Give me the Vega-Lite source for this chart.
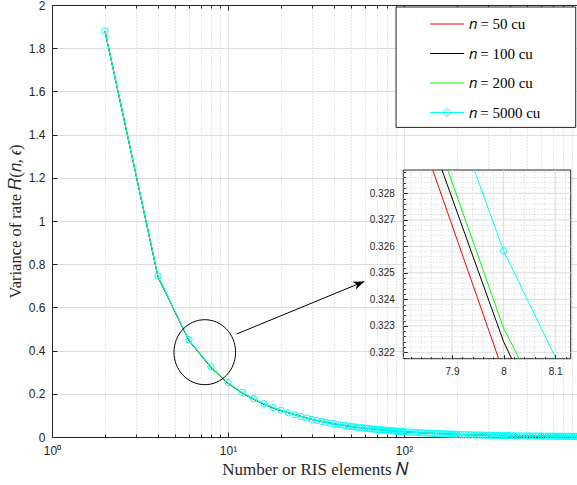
{
  "$schema": "https://vega.github.io/schema/vega-lite/v6.json",
  "width": 525,
  "height": 432,
  "autosize": {"type": "none"},
  "padding": {"left": 52, "top": 5, "right": 0, "bottom": 48},
  "background": "white",
  "config": {
    "view": {"stroke": null},
    "axis": {"labelFont": "Liberation Sans", "labelFontSize": 12, "labelColor": "#262626", "titleFont": "Liberation Serif", "titleFontSize": 17, "titleFontWeight": "normal", "titleColor": "#262626", "domainColor": "#262626", "tickColor": "#262626", "domainWidth": 1, "tickWidth": 1, "gridWidth": 1}
  },
  "datasets": {
    "cyan": [
      {"N": 2, "R": 1.88}, {"N": 4, "R": 0.745}, {"N": 6, "R": 0.45}, {"N": 8, "R": 0.326}, {"N": 10, "R": 0.252},
      {"N": 12, "R": 0.207}, {"N": 14, "R": 0.177}, {"N": 16, "R": 0.154}, {"N": 18, "R": 0.137}, {"N": 20, "R": 0.124},
      {"N": 22, "R": 0.1125}, {"N": 24, "R": 0.103}, {"N": 26, "R": 0.095}, {"N": 28, "R": 0.088}, {"N": 30, "R": 0.082},
      {"N": 32, "R": 0.0768}, {"N": 34, "R": 0.0722}, {"N": 36, "R": 0.0682}, {"N": 38, "R": 0.0646}, {"N": 40, "R": 0.0613},
      {"N": 42, "R": 0.0584}, {"N": 44, "R": 0.0557}, {"N": 46, "R": 0.0533}, {"N": 48, "R": 0.0511}, {"N": 50, "R": 0.049},
      {"N": 52, "R": 0.0471}, {"N": 54, "R": 0.0454}, {"N": 56, "R": 0.0438}, {"N": 58, "R": 0.0423}, {"N": 60, "R": 0.0409},
      {"N": 62, "R": 0.0396}, {"N": 64, "R": 0.0383}, {"N": 66, "R": 0.0372}, {"N": 68, "R": 0.0361}, {"N": 70, "R": 0.035},
      {"N": 72, "R": 0.034}, {"N": 74, "R": 0.0331}, {"N": 76, "R": 0.0323}, {"N": 78, "R": 0.0314}, {"N": 80, "R": 0.0306},
      {"N": 82, "R": 0.0299}, {"N": 84, "R": 0.0292}, {"N": 86, "R": 0.0285}, {"N": 88, "R": 0.0279}, {"N": 90, "R": 0.0272},
      {"N": 92, "R": 0.0266}, {"N": 94, "R": 0.0261}, {"N": 96, "R": 0.0255}, {"N": 98, "R": 0.025}, {"N": 100, "R": 0.0245},
      {"N": 105, "R": 0.0233}, {"N": 110, "R": 0.0223}, {"N": 115, "R": 0.0213}, {"N": 120, "R": 0.0204}, {"N": 125, "R": 0.0196},
      {"N": 130, "R": 0.0189}, {"N": 135, "R": 0.0182}, {"N": 140, "R": 0.0175}, {"N": 145, "R": 0.0169}, {"N": 150, "R": 0.0163},
      {"N": 155, "R": 0.0158}, {"N": 160, "R": 0.0153}, {"N": 165, "R": 0.0148}, {"N": 170, "R": 0.0144}, {"N": 175, "R": 0.014},
      {"N": 180, "R": 0.0136}, {"N": 185, "R": 0.0132}, {"N": 190, "R": 0.0129}, {"N": 195, "R": 0.0126}, {"N": 200, "R": 0.0123},
      {"N": 210, "R": 0.0117}, {"N": 220, "R": 0.0111}, {"N": 230, "R": 0.0107}, {"N": 240, "R": 0.0102}, {"N": 250, "R": 0.0098},
      {"N": 260, "R": 0.0094}, {"N": 270, "R": 0.0091}, {"N": 280, "R": 0.0088}, {"N": 290, "R": 0.0084}, {"N": 300, "R": 0.0082},
      {"N": 310, "R": 0.0079}, {"N": 320, "R": 0.0077}, {"N": 330, "R": 0.0074}, {"N": 340, "R": 0.0072}, {"N": 350, "R": 0.007},
      {"N": 360, "R": 0.0068}, {"N": 370, "R": 0.0066}, {"N": 380, "R": 0.0064}, {"N": 390, "R": 0.0063}, {"N": 400, "R": 0.0061},
      {"N": 420, "R": 0.0058}, {"N": 440, "R": 0.0056}, {"N": 460, "R": 0.0053}, {"N": 480, "R": 0.0051}, {"N": 500, "R": 0.0049},
      {"N": 520, "R": 0.0047}, {"N": 540, "R": 0.0045}, {"N": 560, "R": 0.0044}, {"N": 580, "R": 0.0042}, {"N": 600, "R": 0.0041},
      {"N": 620, "R": 0.004}, {"N": 640, "R": 0.0038}, {"N": 660, "R": 0.0037}, {"N": 680, "R": 0.0036}, {"N": 700, "R": 0.0035},
      {"N": 720, "R": 0.0034}, {"N": 740, "R": 0.0033}, {"N": 760, "R": 0.0032}, {"N": 780, "R": 0.0031}, {"N": 800, "R": 0.0031},
      {"N": 820, "R": 0.003}, {"N": 840, "R": 0.0029}, {"N": 860, "R": 0.0028}, {"N": 880, "R": 0.0028}, {"N": 900, "R": 0.0027},
      {"N": 920, "R": 0.0027}, {"N": 940, "R": 0.0026}, {"N": 960, "R": 0.0026}, {"N": 980, "R": 0.0025}, {"N": 1000, "R": 0.0025}
    ],
    "others": [
      {"s": "𝑛 = 50 cu", "N": 2, "R": 1.878}, {"s": "𝑛 = 50 cu", "N": 4, "R": 0.741}, {"s": "𝑛 = 50 cu", "N": 6, "R": 0.446}, {"s": "𝑛 = 50 cu", "N": 8, "R": 0.3212}, {"s": "𝑛 = 50 cu", "N": 10, "R": 0.248},
      {"s": "𝑛 = 50 cu", "N": 12, "R": 0.204}, {"s": "𝑛 = 50 cu", "N": 14, "R": 0.174}, {"s": "𝑛 = 50 cu", "N": 16, "R": 0.152}, {"s": "𝑛 = 50 cu", "N": 18, "R": 0.135}, {"s": "𝑛 = 50 cu", "N": 20, "R": 0.122},
      {"s": "𝑛 = 50 cu", "N": 30, "R": 0.081}, {"s": "𝑛 = 50 cu", "N": 40, "R": 0.0605}, {"s": "𝑛 = 50 cu", "N": 50, "R": 0.0484}, {"s": "𝑛 = 50 cu", "N": 60, "R": 0.0404}, {"s": "𝑛 = 50 cu", "N": 80, "R": 0.0302},
      {"s": "𝑛 = 50 cu", "N": 100, "R": 0.0242}, {"s": "𝑛 = 50 cu", "N": 150, "R": 0.0161}, {"s": "𝑛 = 50 cu", "N": 200, "R": 0.0121}, {"s": "𝑛 = 50 cu", "N": 300, "R": 0.0081}, {"s": "𝑛 = 50 cu", "N": 400, "R": 0.006},
      {"s": "𝑛 = 50 cu", "N": 600, "R": 0.004}, {"s": "𝑛 = 50 cu", "N": 800, "R": 0.003}, {"s": "𝑛 = 50 cu", "N": 1000, "R": 0.0024},
      {"s": "𝑛 = 100 cu", "N": 2, "R": 1.879}, {"s": "𝑛 = 100 cu", "N": 4, "R": 0.742}, {"s": "𝑛 = 100 cu", "N": 6, "R": 0.447}, {"s": "𝑛 = 100 cu", "N": 8, "R": 0.3224}, {"s": "𝑛 = 100 cu", "N": 10, "R": 0.249},
      {"s": "𝑛 = 100 cu", "N": 12, "R": 0.205}, {"s": "𝑛 = 100 cu", "N": 14, "R": 0.175}, {"s": "𝑛 = 100 cu", "N": 16, "R": 0.152}, {"s": "𝑛 = 100 cu", "N": 18, "R": 0.135}, {"s": "𝑛 = 100 cu", "N": 20, "R": 0.122},
      {"s": "𝑛 = 100 cu", "N": 30, "R": 0.081}, {"s": "𝑛 = 100 cu", "N": 40, "R": 0.0607}, {"s": "𝑛 = 100 cu", "N": 50, "R": 0.0485}, {"s": "𝑛 = 100 cu", "N": 60, "R": 0.0405}, {"s": "𝑛 = 100 cu", "N": 80, "R": 0.0303},
      {"s": "𝑛 = 100 cu", "N": 100, "R": 0.0243}, {"s": "𝑛 = 100 cu", "N": 150, "R": 0.0162}, {"s": "𝑛 = 100 cu", "N": 200, "R": 0.0122}, {"s": "𝑛 = 100 cu", "N": 300, "R": 0.0081}, {"s": "𝑛 = 100 cu", "N": 400, "R": 0.006},
      {"s": "𝑛 = 100 cu", "N": 600, "R": 0.004}, {"s": "𝑛 = 100 cu", "N": 800, "R": 0.003}, {"s": "𝑛 = 100 cu", "N": 1000, "R": 0.0024},
      {"s": "𝑛 = 200 cu", "N": 2, "R": 1.879}, {"s": "𝑛 = 200 cu", "N": 4, "R": 0.743}, {"s": "𝑛 = 200 cu", "N": 6, "R": 0.447}, {"s": "𝑛 = 200 cu", "N": 8, "R": 0.3229}, {"s": "𝑛 = 200 cu", "N": 10, "R": 0.249},
      {"s": "𝑛 = 200 cu", "N": 12, "R": 0.205}, {"s": "𝑛 = 200 cu", "N": 14, "R": 0.175}, {"s": "𝑛 = 200 cu", "N": 16, "R": 0.153}, {"s": "𝑛 = 200 cu", "N": 18, "R": 0.136}, {"s": "𝑛 = 200 cu", "N": 20, "R": 0.123},
      {"s": "𝑛 = 200 cu", "N": 30, "R": 0.081}, {"s": "𝑛 = 200 cu", "N": 40, "R": 0.0608}, {"s": "𝑛 = 200 cu", "N": 50, "R": 0.0486}, {"s": "𝑛 = 200 cu", "N": 60, "R": 0.0405}, {"s": "𝑛 = 200 cu", "N": 80, "R": 0.0303},
      {"s": "𝑛 = 200 cu", "N": 100, "R": 0.0243}, {"s": "𝑛 = 200 cu", "N": 150, "R": 0.0162}, {"s": "𝑛 = 200 cu", "N": 200, "R": 0.0122}, {"s": "𝑛 = 200 cu", "N": 300, "R": 0.0081}, {"s": "𝑛 = 200 cu", "N": 400, "R": 0.006},
      {"s": "𝑛 = 200 cu", "N": 600, "R": 0.004}, {"s": "𝑛 = 200 cu", "N": 800, "R": 0.003}, {"s": "𝑛 = 200 cu", "N": 1000, "R": 0.0024}
    ],
    "insetLines": [
      {"s": "𝑛 = 50 cu", "x": 7.8626, "y": 0.32888}, {"s": "𝑛 = 50 cu", "x": 7.9905, "y": 0.32176},
      {"s": "𝑛 = 100 cu", "x": 7.8806, "y": 0.32888}, {"s": "𝑛 = 100 cu", "x": 8.0, "y": 0.3224}, {"s": "𝑛 = 100 cu", "x": 8.0157, "y": 0.32176},
      {"s": "𝑛 = 200 cu", "x": 7.8917, "y": 0.32888}, {"s": "𝑛 = 200 cu", "x": 8.0, "y": 0.32291}, {"s": "𝑛 = 200 cu", "x": 8.0304, "y": 0.32176},
      {"s": "𝑛 = 5000 cu", "x": 7.9432, "y": 0.32888}, {"s": "𝑛 = 5000 cu", "x": 8.0, "y": 0.32583}, {"s": "𝑛 = 5000 cu", "x": 8.1016, "y": 0.32176}
    ],
    "insetMarker": [{"x": 8.0, "y": 0.32583}],
    "insetXMajor": [{"v": 7.9}, {"v": 8.0}, {"v": 8.1}],
    "insetXMinor": [{"v": 7.82}, {"v": 7.84}, {"v": 7.86}, {"v": 7.88}, {"v": 7.92}, {"v": 7.94}, {"v": 7.96}, {"v": 7.98}, {"v": 8.02}, {"v": 8.04}, {"v": 8.06}, {"v": 8.08}, {"v": 8.12}],
    "insetYMajor": [{"v": 0.322}, {"v": 0.323}, {"v": 0.324}, {"v": 0.325}, {"v": 0.326}, {"v": 0.327}, {"v": 0.328}],
    "insetYMinor": [{"v": 0.3218}, {"v": 0.3222}, {"v": 0.3224}, {"v": 0.3226}, {"v": 0.3228}, {"v": 0.3232}, {"v": 0.3234}, {"v": 0.3236}, {"v": 0.3238}, {"v": 0.3242}, {"v": 0.3244}, {"v": 0.3246}, {"v": 0.3248}, {"v": 0.3252}, {"v": 0.3254}, {"v": 0.3256}, {"v": 0.3258}, {"v": 0.3262}, {"v": 0.3264}, {"v": 0.3266}, {"v": 0.3268}, {"v": 0.3272}, {"v": 0.3274}, {"v": 0.3276}, {"v": 0.3278}, {"v": 0.3282}, {"v": 0.3284}, {"v": 0.3286}, {"v": 0.3288}]
  },
  "resolve": {"scale": {"x": "independent", "y": "independent"}, "axis": {"x": "independent", "y": "independent"}},
  "layer": [
    {
      "data": {"name": "others"},
      "mark": {"type": "line", "strokeWidth": 1},
      "encoding": {
        "x": {"field": "N", "type": "quantitative", "scale": {"type": "log", "domain": [1, 961], "nice": false},
          "axis": {"orient": "bottom", "values": [1,2,3,4,5,6,7,8,9,10,20,30,40,50,60,70,80,90,100,200,300,400,500,600,700,800,900],
            "labelExpr": "datum.value == 1 ? '10⁰' : datum.value == 10 ? '10¹' : datum.value == 100 ? '10²' : ''",
            "labelFlush": false, "labelOverlap": false, "grid": true,
            "gridColor": {"condition": {"test": "datum.value == 1 || datum.value == 10 || datum.value == 100", "value": "#dcdcdc"}, "value": "#cdcdcd"},
            "gridDash": {"condition": {"test": "datum.value == 1 || datum.value == 10 || datum.value == 100", "value": [1, 0]}, "value": [1, 2]},
            "tickSize": {"condition": {"test": "datum.value == 1 || datum.value == 10 || datum.value == 100", "value": -5}, "value": -3},
            "labelPadding": 13, "title": "Number or RIS elements 𝑁", "titlePadding": 3}},
        "y": {"field": "R", "type": "quantitative", "scale": {"domain": [0, 2], "nice": false, "zero": true},
          "axis": {"orient": "left", "values": [0,0.2,0.4,0.6,0.8,1,1.2,1.4,1.6,1.8,2], "format": "~g", "grid": true, "gridColor": "#dcdcdc", "tickSize": -5, "labelPadding": 12, "title": "Variance of rate 𝑅(𝑛, 𝜖)", "titleFontSize": 16.5, "titlePadding": 5}},
        "color": {"field": "s", "type": "nominal",
          "scale": {"domain": ["𝑛 = 50 cu", "𝑛 = 100 cu", "𝑛 = 200 cu", "𝑛 = 5000 cu"], "range": ["#ff0000", "#000000", "#00ff00", "#00ffff"]},
          "legend": {"orient": "none", "legendX": 377.5, "legendY": 1.5, "title": null, "padding": 0, "symbolOffset": 0,
            "symbolType": "stroke", "symbolSize": 1156, "symbolStrokeWidth": 1,
            "labelFont": "Liberation Serif", "labelFontSize": 15, "labelColor": "black", "labelOffset": 4, "rowPadding": 3.5, "labelLimit": 0,
            "encode": {"symbols": {"update": {"shape": {"signal": "datum.value === '𝑛 = 5000 cu' ? 'M-1,0H1M0.2,0A0.2,0.2,0,1,1,-0.2,0A0.2,0.2,0,1,1,0.2,0' : 'stroke'"}, "fill": {"value": "transparent"}}}}}}
      }
    },
    {
      "data": {"name": "cyan"},
      "mark": {"type": "line", "stroke": "#00ffff", "strokeWidth": 1},
      "encoding": {
        "x": {"field": "N", "type": "quantitative", "scale": {"type": "log", "domain": [1, 961], "nice": false},
          "axis": {"orient": "top", "values": [1,2,3,4,5,6,7,8,9,10,20,30,40,50,60,70,80,90,100,200,300,400,500,600,700,800,900],
            "labels": false, "grid": false, "title": null,
            "tickSize": {"condition": {"test": "datum.value == 1 || datum.value == 10 || datum.value == 100", "value": -5}, "value": -3}}},
        "y": {"field": "R", "type": "quantitative", "scale": {"domain": [0, 2], "nice": false, "zero": true}, "axis": null}
      }
    },
    {
      "data": {"name": "cyan"},
      "mark": {"type": "point", "shape": "circle", "filled": false, "stroke": "#00ffff", "strokeWidth": 1, "size": 40, "opacity": 1},
      "encoding": {
        "x": {"field": "N", "type": "quantitative", "scale": {"type": "log", "domain": [1, 961], "nice": false}, "axis": null},
        "y": {"field": "R", "type": "quantitative", "scale": {"domain": [0, 2], "nice": false, "zero": true}, "axis": null}
      }
    },
    {
      "data": {"values": [{}]},
      "mark": {"type": "point", "shape": "M-0.948,0A0.948,1,0,1,0,0.948,0A0.948,1,0,1,0,-0.948,0Z", "filled": false, "stroke": "#000000", "strokeWidth": 1, "size": 4225, "opacity": 1},
      "encoding": {
        "x": {"datum": 7.38, "type": "quantitative", "scale": {"type": "log", "domain": [1, 961], "nice": false}, "axis": null},
        "y": {"datum": 0.3926, "type": "quantitative", "scale": {"domain": [0, 2], "nice": false, "zero": true}, "axis": null}
      }
    },
    {
      "data": {"values": [{}]},
      "mark": {"type": "rule", "stroke": "#000000", "strokeWidth": 1},
      "encoding": {
        "x": {"datum": 11.21, "type": "quantitative", "scale": {"type": "log", "domain": [1, 961], "nice": false}, "axis": null},
        "x2": {"datum": 59.5},
        "y": {"datum": 0.4769, "type": "quantitative", "scale": {"domain": [0, 2], "nice": false, "zero": true}, "axis": null},
        "y2": {"datum": 0.7204}
      }
    },
    {
      "data": {"values": [{}]},
      "mark": {"type": "point", "shape": "M0,0L-1,-0.38L-0.72,0L-1,0.38Z", "filled": true, "fill": "#000000", "strokeWidth": 0, "size": 484, "angle": -22.4, "opacity": 1},
      "encoding": {
        "x": {"datum": 59.5, "type": "quantitative", "scale": {"type": "log", "domain": [1, 961], "nice": false}, "axis": null},
        "y": {"datum": 0.7204, "type": "quantitative", "scale": {"domain": [0, 2], "nice": false, "zero": true}, "axis": null}
      }
    },
    {
      "data": {"values": [{}]},
      "mark": {"type": "rect", "fill": "white", "stroke": "#262626", "strokeWidth": 1},
      "encoding": {
        "x": {"datum": 90.1, "type": "quantitative", "scale": {"type": "log", "domain": [1, 961], "nice": false}, "axis": null},
        "x2": {"datum": 945},
        "y": {"datum": 1.9907, "type": "quantitative", "scale": {"domain": [0, 2], "nice": false, "zero": true}, "axis": null},
        "y2": {"datum": 1.4333}
      }
    },
    {
      "data": {"values": [{}]},
      "mark": {"type": "rect", "fill": "white", "stroke": "#262626", "strokeWidth": 1},
      "encoding": {
        "x": {"datum": 7.8056, "type": "quantitative", "scale": {"domain": [7.8056, 8.13], "range": [351.3, 518.7], "nice": false, "zero": false},
          "axis": {"orient": "bottom", "offset": -78.3, "zindex": 1, "domain": false, "grid": false, "title": null,
            "values": [7.82,7.84,7.86,7.88,7.9,7.92,7.94,7.96,7.98,8,8.02,8.04,8.06,8.08,8.1,8.12],
            "labelExpr": "abs(datum.value*10 - round(datum.value*10)) < 0.001 ? format(datum.value, '~g') : ''",
            "tickSize": {"condition": {"test": "abs(datum.value*10 - round(datum.value*10)) < 0.001", "value": -4}, "value": -2},
            "labelPadding": 12, "labelFontSize": 10, "labelFlush": false, "labelOverlap": false}},
        "x2": {"datum": 8.13},
        "y": {"datum": 0.32176, "type": "quantitative", "scale": {"domain": [0.32176, 0.32888], "range": [353.7, 165], "nice": false, "zero": false},
          "axis": {"orient": "left", "offset": -351.3, "zindex": 1, "domain": false, "grid": false, "title": null,
            "values": [0.3218,0.322,0.3222,0.3224,0.3226,0.3228,0.323,0.3232,0.3234,0.3236,0.3238,0.324,0.3242,0.3244,0.3246,0.3248,0.325,0.3252,0.3254,0.3256,0.3258,0.326,0.3262,0.3264,0.3266,0.3268,0.327,0.3272,0.3274,0.3276,0.3278,0.328,0.3282,0.3284,0.3286,0.3288],
            "labelExpr": "abs(datum.value*1000 - round(datum.value*1000)) < 0.001 ? format(datum.value, '.3f') : ''",
            "tickSize": {"condition": {"test": "abs(datum.value*1000 - round(datum.value*1000)) < 0.001", "value": -4}, "value": -2},
            "labelPadding": 13, "labelFontSize": 10, "labelOverlap": false}},
        "y2": {"datum": 0.32888}
      }
    },
    {
      "data": {"name": "insetXMinor"},
      "mark": {"type": "rule", "stroke": "#cdcdcd", "strokeDash": [1, 2], "strokeWidth": 1},
      "encoding": {
        "x": {"field": "v", "type": "quantitative", "scale": {"domain": [7.8056, 8.13], "range": [351.3, 518.7], "nice": false, "zero": false}, "axis": null},
        "y": {"datum": 0.32176, "type": "quantitative", "scale": {"domain": [0.32176, 0.32888], "range": [353.7, 165], "nice": false, "zero": false}, "axis": null},
        "y2": {"datum": 0.32888}
      }
    },
    {
      "data": {"name": "insetYMinor"},
      "mark": {"type": "rule", "stroke": "#cdcdcd", "strokeDash": [1, 2], "strokeWidth": 1},
      "encoding": {
        "y": {"field": "v", "type": "quantitative", "scale": {"domain": [0.32176, 0.32888], "range": [353.7, 165], "nice": false, "zero": false}, "axis": null},
        "x": {"datum": 7.8056, "type": "quantitative", "scale": {"domain": [7.8056, 8.13], "range": [351.3, 518.7], "nice": false, "zero": false}, "axis": null},
        "x2": {"datum": 8.13}
      }
    },
    {
      "data": {"name": "insetXMajor"},
      "mark": {"type": "rule", "stroke": "#dcdcdc", "strokeWidth": 1},
      "encoding": {
        "x": {"field": "v", "type": "quantitative", "scale": {"domain": [7.8056, 8.13], "range": [351.3, 518.7], "nice": false, "zero": false}, "axis": null},
        "y": {"datum": 0.32176, "type": "quantitative", "scale": {"domain": [0.32176, 0.32888], "range": [353.7, 165], "nice": false, "zero": false}, "axis": null},
        "y2": {"datum": 0.32888}
      }
    },
    {
      "data": {"name": "insetYMajor"},
      "mark": {"type": "rule", "stroke": "#dcdcdc", "strokeWidth": 1},
      "encoding": {
        "y": {"field": "v", "type": "quantitative", "scale": {"domain": [0.32176, 0.32888], "range": [353.7, 165], "nice": false, "zero": false}, "axis": null},
        "x": {"datum": 7.8056, "type": "quantitative", "scale": {"domain": [7.8056, 8.13], "range": [351.3, 518.7], "nice": false, "zero": false}, "axis": null},
        "x2": {"datum": 8.13}
      }
    },
    {
      "data": {"name": "insetLines"},
      "mark": {"type": "line", "strokeWidth": 1},
      "encoding": {
        "x": {"field": "x", "type": "quantitative", "scale": {"domain": [7.8056, 8.13], "range": [351.3, 518.7], "nice": false, "zero": false}, "axis": null},
        "y": {"field": "y", "type": "quantitative", "scale": {"domain": [0.32176, 0.32888], "range": [353.7, 165], "nice": false, "zero": false}, "axis": null},
        "color": {"field": "s", "type": "nominal", "legend": null}
      }
    },
    {
      "data": {"name": "insetMarker"},
      "mark": {"type": "point", "shape": "circle", "filled": false, "stroke": "#00ffff", "strokeWidth": 1, "size": 40, "opacity": 1},
      "encoding": {
        "x": {"field": "x", "type": "quantitative", "scale": {"domain": [7.8056, 8.13], "range": [351.3, 518.7], "nice": false, "zero": false}, "axis": null},
        "y": {"field": "y", "type": "quantitative", "scale": {"domain": [0.32176, 0.32888], "range": [353.7, 165], "nice": false, "zero": false}, "axis": null}
      }
    }
  ]
}
